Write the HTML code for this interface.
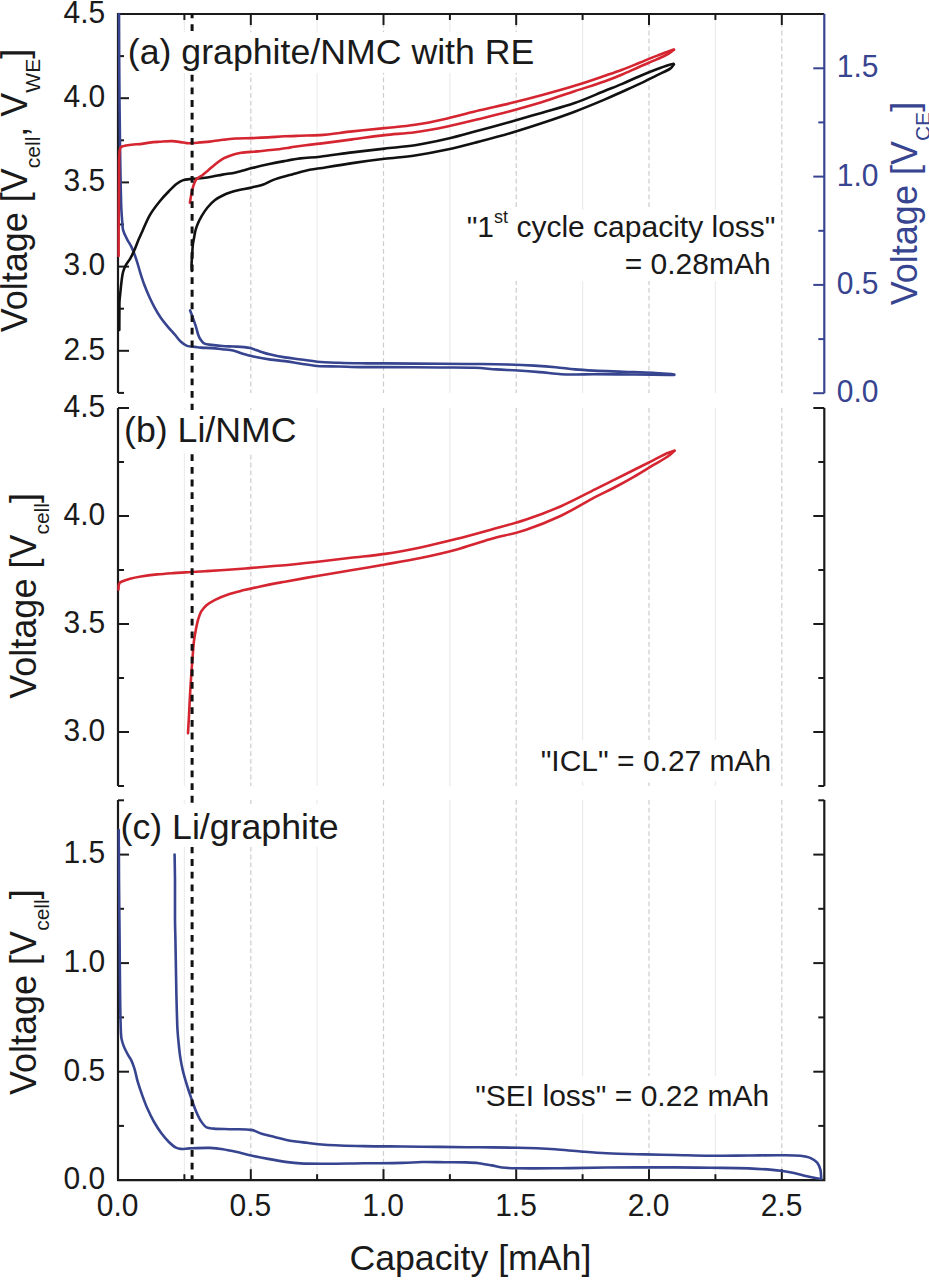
<!DOCTYPE html>
<html><head><meta charset="utf-8"><style>
html,body{margin:0;padding:0;background:#fff;}
svg{display:block;}
text{font-family:"Liberation Sans",sans-serif;}
</style></head><body>
<svg width="929" height="1280" viewBox="0 0 929 1280" fill="#1a1a1a" font-family="'Liberation Sans', sans-serif">
<rect width="929" height="1280" fill="#fff"/>
<line x1="184.4" y1="15.0" x2="184.4" y2="393.0" stroke="#ececec" stroke-width="1.2"/>
<line x1="250.8" y1="15.0" x2="250.8" y2="393.0" stroke="#cccccc" stroke-width="1.2" stroke-dasharray="4.8 3"/>
<line x1="317.1" y1="15.0" x2="317.1" y2="393.0" stroke="#ececec" stroke-width="1.2"/>
<line x1="383.5" y1="15.0" x2="383.5" y2="393.0" stroke="#cccccc" stroke-width="1.2" stroke-dasharray="4.8 3"/>
<line x1="449.9" y1="15.0" x2="449.9" y2="393.0" stroke="#ececec" stroke-width="1.2"/>
<line x1="516.2" y1="15.0" x2="516.2" y2="393.0" stroke="#cccccc" stroke-width="1.2" stroke-dasharray="4.8 3"/>
<line x1="582.6" y1="15.0" x2="582.6" y2="393.0" stroke="#ececec" stroke-width="1.2"/>
<line x1="649.0" y1="15.0" x2="649.0" y2="393.0" stroke="#cccccc" stroke-width="1.2" stroke-dasharray="4.8 3"/>
<line x1="715.4" y1="15.0" x2="715.4" y2="393.0" stroke="#ececec" stroke-width="1.2"/>
<line x1="781.8" y1="15.0" x2="781.8" y2="393.0" stroke="#cccccc" stroke-width="1.2" stroke-dasharray="4.8 3"/>
<line x1="184.4" y1="408.0" x2="184.4" y2="786.0" stroke="#ececec" stroke-width="1.2"/>
<line x1="250.8" y1="408.0" x2="250.8" y2="786.0" stroke="#cccccc" stroke-width="1.2" stroke-dasharray="4.8 3"/>
<line x1="317.1" y1="408.0" x2="317.1" y2="786.0" stroke="#ececec" stroke-width="1.2"/>
<line x1="383.5" y1="408.0" x2="383.5" y2="786.0" stroke="#cccccc" stroke-width="1.2" stroke-dasharray="4.8 3"/>
<line x1="449.9" y1="408.0" x2="449.9" y2="786.0" stroke="#ececec" stroke-width="1.2"/>
<line x1="516.2" y1="408.0" x2="516.2" y2="786.0" stroke="#cccccc" stroke-width="1.2" stroke-dasharray="4.8 3"/>
<line x1="582.6" y1="408.0" x2="582.6" y2="786.0" stroke="#ececec" stroke-width="1.2"/>
<line x1="649.0" y1="408.0" x2="649.0" y2="786.0" stroke="#cccccc" stroke-width="1.2" stroke-dasharray="4.8 3"/>
<line x1="715.4" y1="408.0" x2="715.4" y2="786.0" stroke="#ececec" stroke-width="1.2"/>
<line x1="781.8" y1="408.0" x2="781.8" y2="786.0" stroke="#cccccc" stroke-width="1.2" stroke-dasharray="4.8 3"/>
<line x1="184.4" y1="800.0" x2="184.4" y2="1179.2" stroke="#ececec" stroke-width="1.2"/>
<line x1="250.8" y1="800.0" x2="250.8" y2="1179.2" stroke="#cccccc" stroke-width="1.2" stroke-dasharray="4.8 3"/>
<line x1="317.1" y1="800.0" x2="317.1" y2="1179.2" stroke="#ececec" stroke-width="1.2"/>
<line x1="383.5" y1="800.0" x2="383.5" y2="1179.2" stroke="#cccccc" stroke-width="1.2" stroke-dasharray="4.8 3"/>
<line x1="449.9" y1="800.0" x2="449.9" y2="1179.2" stroke="#ececec" stroke-width="1.2"/>
<line x1="516.2" y1="800.0" x2="516.2" y2="1179.2" stroke="#cccccc" stroke-width="1.2" stroke-dasharray="4.8 3"/>
<line x1="582.6" y1="800.0" x2="582.6" y2="1179.2" stroke="#ececec" stroke-width="1.2"/>
<line x1="649.0" y1="800.0" x2="649.0" y2="1179.2" stroke="#cccccc" stroke-width="1.2" stroke-dasharray="4.8 3"/>
<line x1="715.4" y1="800.0" x2="715.4" y2="1179.2" stroke="#ececec" stroke-width="1.2"/>
<line x1="781.8" y1="800.0" x2="781.8" y2="1179.2" stroke="#cccccc" stroke-width="1.2" stroke-dasharray="4.8 3"/>
<path d="M118.0,393.0 L118.0,14.0 L824.3,14.0" fill="none" stroke="#1a1a1a" stroke-width="2.2"/>
<line x1="824.3" y1="14.0" x2="824.3" y2="393.2" stroke="#37448f" stroke-width="2.2"/>
<line x1="118.0" y1="98.2" x2="129.0" y2="98.2" stroke="#1a1a1a" stroke-width="2"/>
<line x1="118.0" y1="182.4" x2="129.0" y2="182.4" stroke="#1a1a1a" stroke-width="2"/>
<line x1="118.0" y1="266.6" x2="129.0" y2="266.6" stroke="#1a1a1a" stroke-width="2"/>
<line x1="118.0" y1="350.8" x2="129.0" y2="350.8" stroke="#1a1a1a" stroke-width="2"/>
<line x1="118.0" y1="56.1" x2="124.0" y2="56.1" stroke="#1a1a1a" stroke-width="2"/>
<line x1="118.0" y1="140.3" x2="124.0" y2="140.3" stroke="#1a1a1a" stroke-width="2"/>
<line x1="118.0" y1="224.5" x2="124.0" y2="224.5" stroke="#1a1a1a" stroke-width="2"/>
<line x1="118.0" y1="308.7" x2="124.0" y2="308.7" stroke="#1a1a1a" stroke-width="2"/>
<line x1="118.0" y1="392.9" x2="124.0" y2="392.9" stroke="#1a1a1a" stroke-width="2"/>
<line x1="824.3" y1="393.2" x2="813.3" y2="393.2" stroke="#37448f" stroke-width="2"/>
<line x1="824.3" y1="284.9" x2="813.3" y2="284.9" stroke="#37448f" stroke-width="2"/>
<line x1="824.3" y1="176.6" x2="813.3" y2="176.6" stroke="#37448f" stroke-width="2"/>
<line x1="824.3" y1="68.3" x2="813.3" y2="68.3" stroke="#37448f" stroke-width="2"/>
<line x1="824.3" y1="339.1" x2="818.3" y2="339.1" stroke="#37448f" stroke-width="2"/>
<line x1="824.3" y1="230.8" x2="818.3" y2="230.8" stroke="#37448f" stroke-width="2"/>
<line x1="824.3" y1="122.4" x2="818.3" y2="122.4" stroke="#37448f" stroke-width="2"/>
<line x1="184.4" y1="14.0" x2="184.4" y2="20.0" stroke="#1a1a1a" stroke-width="2"/>
<line x1="250.8" y1="14.0" x2="250.8" y2="25.0" stroke="#1a1a1a" stroke-width="2"/>
<line x1="317.1" y1="14.0" x2="317.1" y2="20.0" stroke="#1a1a1a" stroke-width="2"/>
<line x1="383.5" y1="14.0" x2="383.5" y2="25.0" stroke="#1a1a1a" stroke-width="2"/>
<line x1="449.9" y1="14.0" x2="449.9" y2="20.0" stroke="#1a1a1a" stroke-width="2"/>
<line x1="516.2" y1="14.0" x2="516.2" y2="25.0" stroke="#1a1a1a" stroke-width="2"/>
<line x1="582.6" y1="14.0" x2="582.6" y2="20.0" stroke="#1a1a1a" stroke-width="2"/>
<line x1="649.0" y1="14.0" x2="649.0" y2="25.0" stroke="#1a1a1a" stroke-width="2"/>
<line x1="715.4" y1="14.0" x2="715.4" y2="20.0" stroke="#1a1a1a" stroke-width="2"/>
<line x1="781.8" y1="14.0" x2="781.8" y2="25.0" stroke="#1a1a1a" stroke-width="2"/>
<line x1="118.0" y1="408.0" x2="118.0" y2="786.0" stroke="#1a1a1a" stroke-width="2.2"/>
<line x1="824.3" y1="408.0" x2="824.3" y2="786.0" stroke="#1a1a1a" stroke-width="2.2"/>
<line x1="118.0" y1="408.0" x2="129.0" y2="408.0" stroke="#1a1a1a" stroke-width="2"/>
<line x1="118.0" y1="516.0" x2="129.0" y2="516.0" stroke="#1a1a1a" stroke-width="2"/>
<line x1="118.0" y1="624.0" x2="129.0" y2="624.0" stroke="#1a1a1a" stroke-width="2"/>
<line x1="118.0" y1="732.0" x2="129.0" y2="732.0" stroke="#1a1a1a" stroke-width="2"/>
<line x1="118.0" y1="462.0" x2="124.0" y2="462.0" stroke="#1a1a1a" stroke-width="2"/>
<line x1="118.0" y1="570.0" x2="124.0" y2="570.0" stroke="#1a1a1a" stroke-width="2"/>
<line x1="118.0" y1="678.0" x2="124.0" y2="678.0" stroke="#1a1a1a" stroke-width="2"/>
<line x1="118.0" y1="786.0" x2="124.0" y2="786.0" stroke="#1a1a1a" stroke-width="2"/>
<line x1="824.3" y1="408.0" x2="813.3" y2="408.0" stroke="#1a1a1a" stroke-width="2"/>
<line x1="824.3" y1="516.0" x2="813.3" y2="516.0" stroke="#1a1a1a" stroke-width="2"/>
<line x1="824.3" y1="624.0" x2="813.3" y2="624.0" stroke="#1a1a1a" stroke-width="2"/>
<line x1="824.3" y1="732.0" x2="813.3" y2="732.0" stroke="#1a1a1a" stroke-width="2"/>
<line x1="824.3" y1="462.0" x2="818.3" y2="462.0" stroke="#1a1a1a" stroke-width="2"/>
<line x1="824.3" y1="570.0" x2="818.3" y2="570.0" stroke="#1a1a1a" stroke-width="2"/>
<line x1="824.3" y1="678.0" x2="818.3" y2="678.0" stroke="#1a1a1a" stroke-width="2"/>
<line x1="824.3" y1="786.0" x2="818.3" y2="786.0" stroke="#1a1a1a" stroke-width="2"/>
<path d="M118.0,800.0 L118.0,1180.2 L824.3,1180.2 L824.3,800.0" fill="none" stroke="#1a1a1a" stroke-width="2.2"/>
<line x1="118.0" y1="1071.7" x2="129.0" y2="1071.7" stroke="#1a1a1a" stroke-width="2"/>
<line x1="118.0" y1="963.1" x2="129.0" y2="963.1" stroke="#1a1a1a" stroke-width="2"/>
<line x1="118.0" y1="854.6" x2="129.0" y2="854.6" stroke="#1a1a1a" stroke-width="2"/>
<line x1="118.0" y1="1125.9" x2="124.0" y2="1125.9" stroke="#1a1a1a" stroke-width="2"/>
<line x1="118.0" y1="1017.4" x2="124.0" y2="1017.4" stroke="#1a1a1a" stroke-width="2"/>
<line x1="118.0" y1="908.8" x2="124.0" y2="908.8" stroke="#1a1a1a" stroke-width="2"/>
<line x1="118.0" y1="800.3" x2="124.0" y2="800.3" stroke="#1a1a1a" stroke-width="2"/>
<line x1="824.3" y1="1071.7" x2="813.3" y2="1071.7" stroke="#1a1a1a" stroke-width="2"/>
<line x1="824.3" y1="963.1" x2="813.3" y2="963.1" stroke="#1a1a1a" stroke-width="2"/>
<line x1="824.3" y1="854.6" x2="813.3" y2="854.6" stroke="#1a1a1a" stroke-width="2"/>
<line x1="824.3" y1="1125.9" x2="818.3" y2="1125.9" stroke="#1a1a1a" stroke-width="2"/>
<line x1="824.3" y1="1017.4" x2="818.3" y2="1017.4" stroke="#1a1a1a" stroke-width="2"/>
<line x1="824.3" y1="908.8" x2="818.3" y2="908.8" stroke="#1a1a1a" stroke-width="2"/>
<line x1="824.3" y1="800.3" x2="818.3" y2="800.3" stroke="#1a1a1a" stroke-width="2"/>
<line x1="184.4" y1="1180.2" x2="184.4" y2="1174.2" stroke="#1a1a1a" stroke-width="2"/>
<line x1="250.8" y1="1180.2" x2="250.8" y2="1169.2" stroke="#1a1a1a" stroke-width="2"/>
<line x1="317.1" y1="1180.2" x2="317.1" y2="1174.2" stroke="#1a1a1a" stroke-width="2"/>
<line x1="383.5" y1="1180.2" x2="383.5" y2="1169.2" stroke="#1a1a1a" stroke-width="2"/>
<line x1="449.9" y1="1180.2" x2="449.9" y2="1174.2" stroke="#1a1a1a" stroke-width="2"/>
<line x1="516.2" y1="1180.2" x2="516.2" y2="1169.2" stroke="#1a1a1a" stroke-width="2"/>
<line x1="582.6" y1="1180.2" x2="582.6" y2="1174.2" stroke="#1a1a1a" stroke-width="2"/>
<line x1="649.0" y1="1180.2" x2="649.0" y2="1169.2" stroke="#1a1a1a" stroke-width="2"/>
<line x1="715.4" y1="1180.2" x2="715.4" y2="1174.2" stroke="#1a1a1a" stroke-width="2"/>
<line x1="781.8" y1="1180.2" x2="781.8" y2="1169.2" stroke="#1a1a1a" stroke-width="2"/>
<path d="M119.00,14.00 C119.07,29.33 119.10,44.35 119.20,60.00 C119.30,76.32 119.44,94.06 119.60,110.00 C119.75,124.61 119.89,138.35 120.10,152.00 C120.30,164.98 120.54,179.35 120.80,190.00 C120.99,197.73 121.12,204.48 121.40,210.00 C121.60,213.91 121.82,216.65 122.10,220.00 C122.38,223.39 122.25,226.96 123.10,230.20 C123.93,233.39 125.68,236.49 127.10,239.30 C128.39,241.85 130.00,244.00 131.20,246.40 C132.36,248.73 133.24,250.97 134.20,253.50 C135.28,256.33 136.31,259.47 137.30,262.60 C138.34,265.89 139.18,269.26 140.30,272.80 C141.53,276.70 142.88,280.96 144.40,285.00 C145.94,289.09 147.75,293.35 149.50,297.20 C151.12,300.75 152.68,303.96 154.50,307.30 C156.37,310.73 158.38,314.26 160.60,317.50 C162.79,320.69 165.28,323.69 167.70,326.60 C170.05,329.42 172.62,332.08 174.90,334.70 C177.01,337.13 178.75,339.87 180.90,341.80 C182.81,343.51 184.70,345.04 187.00,345.90 C189.44,346.81 192.73,346.59 195.20,346.90 C197.24,347.15 198.63,347.41 200.80,347.60 C203.79,347.86 207.93,347.83 211.50,348.10 C215.10,348.37 218.70,348.80 222.30,349.20 C225.90,349.60 229.55,349.70 233.10,350.50 C236.72,351.32 240.20,353.05 243.80,354.10 C247.37,355.15 250.62,355.96 254.60,356.80 C259.42,357.82 265.48,358.87 270.70,359.60 C275.60,360.28 280.10,360.43 285.00,361.10 C290.22,361.81 295.72,362.98 301.10,363.80 C306.49,364.62 311.50,365.54 317.30,366.00 C323.95,366.53 331.63,366.32 338.80,366.50 C345.97,366.68 352.88,367.00 360.30,367.10 C368.25,367.21 375.14,367.06 385.00,367.10 C399.71,367.15 423.73,367.37 440.00,367.50 C452.98,367.60 464.75,367.38 475.00,367.80 C483.04,368.13 489.32,368.95 496.50,369.40 C503.69,369.85 510.91,370.05 518.10,370.50 C525.28,370.95 532.44,371.48 539.60,372.10 C546.77,372.72 554.71,373.82 561.10,374.20 C566.23,374.51 570.02,374.47 575.00,374.50 C580.77,374.53 587.10,374.32 593.70,374.30 C601.13,374.28 608.70,374.36 617.40,374.40 C628.04,374.45 642.57,374.47 652.90,374.60 C660.90,374.70 667.10,374.87 674.20,375.00" fill="none" stroke="#37448f" stroke-width="2.6" stroke-linejoin="round" stroke-linecap="round"/>
<path d="M190.10,310.40 C191.10,313.10 192.11,315.71 193.10,318.50 C194.14,321.44 195.31,324.74 196.20,327.60 C196.98,330.10 197.44,332.65 198.20,334.70 C198.81,336.34 199.30,337.63 200.20,339.00 C201.19,340.51 202.32,342.32 204.00,343.30 C205.94,344.44 208.76,344.47 211.50,344.90 C214.76,345.41 218.70,345.73 222.30,346.00 C225.90,346.27 229.51,346.32 233.10,346.50 C236.68,346.68 240.68,346.77 243.80,347.10 C246.24,347.36 247.94,347.52 250.30,348.10 C253.24,348.82 256.68,350.34 260.00,351.40 C263.47,352.51 266.85,353.65 270.70,354.60 C275.10,355.69 280.08,356.60 285.00,357.40 C290.19,358.25 295.73,358.78 301.10,359.50 C306.49,360.22 311.51,361.16 317.30,361.70 C323.95,362.32 331.63,362.53 338.80,362.80 C345.96,363.07 352.88,363.20 360.30,363.30 C368.25,363.41 375.14,363.34 385.00,363.40 C399.71,363.48 423.73,363.69 440.00,363.80 C452.98,363.88 463.57,363.88 475.00,364.00 C485.98,364.12 497.03,364.21 507.30,364.50 C516.68,364.76 525.74,365.11 534.20,365.60 C541.77,366.04 548.73,366.54 555.70,367.20 C562.31,367.82 568.61,368.83 575.00,369.40 C581.28,369.96 586.75,370.25 593.70,370.60 C602.44,371.04 613.43,371.33 623.30,371.70 C633.17,372.07 643.85,372.27 652.90,372.80 C660.59,373.25 667.10,373.93 674.20,374.50" fill="none" stroke="#37448f" stroke-width="2.6" stroke-linejoin="round" stroke-linecap="round"/>
<path d="M119.30,330.00 C119.33,323.33 119.36,315.32 119.40,310.00 C119.43,306.47 119.33,304.23 119.50,301.20 C119.68,297.95 120.15,294.47 120.50,291.10 C120.85,287.71 121.15,284.20 121.60,280.90 C122.03,277.77 122.29,274.60 123.10,271.80 C123.84,269.24 124.90,266.92 126.10,264.70 C127.27,262.53 128.91,260.82 130.20,258.60 C131.63,256.13 132.91,253.38 134.20,250.50 C135.62,247.32 136.90,243.59 138.30,240.30 C139.64,237.17 140.83,234.65 142.40,231.20 C144.48,226.63 146.82,220.27 149.70,215.30 C152.51,210.45 156.04,205.87 159.40,201.70 C162.52,197.82 165.99,194.16 169.10,191.00 C171.76,188.30 174.31,185.65 176.80,183.80 C178.79,182.32 180.33,181.21 182.60,180.40 C185.34,179.42 188.98,179.30 192.30,178.90 C195.77,178.49 199.53,178.41 203.00,178.00 C206.32,177.60 209.47,177.07 212.70,176.50 C215.94,175.93 218.90,175.23 222.40,174.60 C226.50,173.86 231.15,173.40 235.80,172.40 C240.95,171.29 246.51,169.45 251.90,168.10 C257.28,166.75 262.70,165.47 268.10,164.30 C273.47,163.14 278.82,162.08 284.20,161.10 C289.58,160.12 294.73,159.12 300.40,158.40 C306.61,157.61 312.67,157.51 320.00,156.70 C329.44,155.66 341.53,153.75 352.30,152.40 C363.06,151.05 373.99,149.80 384.60,148.60 C394.88,147.44 404.75,146.88 415.00,145.30 C425.64,143.66 436.57,141.31 447.30,138.80 C458.11,136.28 469.00,133.06 479.60,130.20 C489.89,127.43 499.72,124.77 510.00,121.90 C520.61,118.94 531.54,115.83 542.30,112.70 C553.08,109.56 564.08,106.78 574.60,103.10 C584.98,99.47 596.30,94.31 605.00,90.80 C611.54,88.16 616.48,86.32 622.20,83.90 C627.98,81.45 633.72,78.65 639.50,76.20 C645.22,73.78 651.55,71.24 656.70,69.30 C660.84,67.74 664.89,66.27 668.00,65.30 C670.15,64.63 671.67,64.30 673.50,63.80" fill="none" stroke="#111111" stroke-width="2.6" stroke-linejoin="round" stroke-linecap="round"/>
<path d="M191.90,271.00 C191.80,268.58 191.57,266.32 191.60,263.75 C191.63,260.83 192.00,257.52 192.20,254.40 C192.40,251.27 192.45,247.95 192.80,245.00 C193.11,242.35 193.63,240.00 194.10,237.50 C194.57,235.00 194.92,232.42 195.60,230.00 C196.26,227.63 197.10,225.42 198.10,223.10 C199.17,220.62 200.41,218.10 201.90,215.60 C203.51,212.90 205.37,210.06 207.50,207.50 C209.71,204.85 212.25,202.10 215.00,200.00 C217.68,197.95 221.04,196.31 223.75,195.00 C225.97,193.93 227.94,193.23 230.00,192.50 C231.96,191.81 233.36,191.33 235.80,190.70 C239.81,189.67 247.08,188.50 251.90,187.40 C255.87,186.50 259.16,185.93 262.70,184.70 C266.33,183.44 269.41,181.38 273.40,179.90 C278.19,178.13 284.20,176.64 289.60,175.10 C294.97,173.57 300.46,171.85 305.70,170.70 C310.58,169.63 314.27,169.24 320.00,168.30 C328.60,166.89 341.52,164.68 352.30,163.10 C363.06,161.52 373.99,160.08 384.60,158.80 C394.88,157.56 404.74,156.99 415.00,155.50 C425.63,153.95 436.57,151.92 447.30,149.60 C458.10,147.26 469.01,144.27 479.60,141.50 C489.90,138.80 499.74,136.22 510.00,133.20 C520.63,130.07 531.56,126.57 542.30,123.00 C553.09,119.41 564.04,115.68 574.60,111.70 C584.93,107.80 596.33,103.09 605.00,99.40 C611.57,96.60 616.46,94.28 622.20,91.70 C627.96,89.11 633.77,86.62 639.50,83.90 C645.27,81.16 651.28,78.01 656.70,75.30 C661.55,72.87 667.57,70.67 670.50,68.40 C672.19,67.09 672.77,65.80 673.90,64.50" fill="none" stroke="#111111" stroke-width="2.6" stroke-linejoin="round" stroke-linecap="round"/>
<path d="M118.60,256.00 C118.63,244.00 118.64,232.32 118.70,220.00 C118.77,207.02 118.89,191.77 119.00,180.00 C119.09,170.69 118.86,160.76 119.30,155.00 C119.54,151.94 119.54,149.41 120.30,148.00 C120.73,147.20 121.25,146.89 122.00,146.50 C123.01,145.97 124.45,145.80 126.00,145.50 C128.10,145.10 131.09,144.73 133.50,144.50 C135.74,144.28 137.62,144.36 140.00,144.10 C142.92,143.79 146.46,142.98 149.70,142.60 C152.93,142.22 155.95,142.04 159.40,141.80 C163.32,141.53 168.19,140.99 172.00,141.10 C175.17,141.19 178.10,141.73 180.70,142.10 C182.83,142.41 184.56,142.93 186.50,143.10 C188.43,143.26 190.23,143.19 192.30,143.10 C194.71,142.99 197.36,142.64 200.10,142.40 C203.16,142.14 206.57,141.97 209.80,141.60 C213.04,141.23 216.72,140.55 219.50,140.20 C221.59,139.94 222.86,139.83 225.00,139.60 C228.00,139.28 231.84,138.75 235.80,138.50 C240.63,138.19 246.53,138.28 251.90,138.10 C257.29,137.92 262.71,137.70 268.10,137.40 C273.48,137.10 278.82,136.58 284.20,136.30 C289.59,136.02 294.74,135.89 300.40,135.70 C306.62,135.49 312.67,135.63 320.00,135.10 C329.44,134.42 341.53,132.57 352.30,131.40 C363.06,130.23 374.00,129.22 384.60,128.10 C394.89,127.02 404.75,126.37 415.00,124.80 C425.64,123.17 436.56,120.81 447.30,118.40 C458.10,115.98 468.98,112.85 479.60,110.30 C489.87,107.83 499.73,105.80 510.00,103.30 C520.62,100.71 531.55,97.91 542.30,95.00 C553.09,92.08 564.03,89.06 574.60,85.80 C584.92,82.62 596.31,78.66 605.00,75.70 C611.55,73.47 616.48,71.84 622.20,69.70 C627.98,67.54 633.74,65.10 639.50,62.80 C645.24,60.50 650.95,58.12 656.70,55.90 C662.42,53.69 668.17,51.63 673.90,49.50" fill="none" stroke="#d42530" stroke-width="2.6" stroke-linejoin="round" stroke-linecap="round"/>
<path d="M189.90,202.70 C190.40,199.80 190.82,196.81 191.40,194.00 C191.96,191.32 192.48,188.68 193.30,186.20 C194.09,183.82 194.72,181.20 196.20,179.40 C197.64,177.65 200.10,176.92 202.00,175.50 C203.97,174.03 205.74,172.45 207.80,170.70 C210.22,168.64 213.04,165.91 215.60,163.90 C217.90,162.10 220.64,160.16 222.40,159.10 C223.44,158.48 223.86,158.29 225.00,157.80 C227.02,156.92 230.81,155.45 233.60,154.60 C236.16,153.82 238.10,153.29 241.10,152.80 C245.45,152.09 251.91,151.90 257.30,151.40 C262.68,150.90 268.03,150.43 273.40,149.80 C278.80,149.17 284.21,148.37 289.60,147.60 C294.98,146.83 300.49,145.88 305.70,145.20 C310.60,144.56 314.28,144.29 320.00,143.60 C328.61,142.56 341.53,140.82 352.30,139.40 C363.07,137.98 373.99,136.31 384.60,135.10 C394.88,133.93 404.74,133.61 415.00,132.20 C425.63,130.74 436.56,128.61 447.30,126.40 C458.09,124.18 469.01,121.47 479.60,118.90 C489.90,116.40 499.73,113.96 510.00,111.20 C520.62,108.34 531.57,105.32 542.30,102.00 C553.10,98.66 563.99,94.70 574.60,91.20 C584.88,87.81 596.34,84.42 605.00,81.30 C611.59,78.93 616.49,76.92 622.20,74.50 C627.99,72.05 633.73,69.23 639.50,66.70 C645.23,64.19 651.72,61.64 656.70,59.40 C660.59,57.65 663.97,56.24 667.00,54.50 C669.59,53.01 671.60,51.37 673.90,49.80" fill="none" stroke="#d42530" stroke-width="2.6" stroke-linejoin="round" stroke-linecap="round"/>
<path d="M118.50,589.50 C118.60,588.00 118.47,586.25 118.80,585.00 C119.06,584.02 119.38,583.13 120.00,582.50 C120.64,581.85 121.49,581.66 122.60,581.20 C124.43,580.44 127.35,579.44 130.10,578.70 C133.35,577.83 136.92,577.16 140.90,576.50 C145.74,575.69 151.70,574.97 157.10,574.40 C162.47,573.84 168.25,573.45 173.20,573.10 C177.44,572.80 181.65,572.60 185.00,572.40 C187.49,572.25 188.89,572.16 191.50,572.00 C195.47,571.76 201.05,571.44 206.50,571.10 C213.05,570.69 220.91,570.20 228.10,569.70 C235.28,569.20 242.44,568.68 249.60,568.10 C256.77,567.52 264.71,566.71 271.10,566.20 C276.23,565.79 279.47,565.69 285.00,565.20 C293.20,564.48 304.95,563.18 315.50,562.00 C326.89,560.73 339.29,559.16 351.00,557.80 C362.45,556.47 373.57,555.60 385.00,553.90 C396.73,552.15 408.70,549.86 420.50,547.40 C432.36,544.93 444.32,542.04 456.00,539.10 C467.48,536.21 478.55,533.08 490.00,529.90 C501.72,526.65 513.75,523.71 525.50,519.80 C537.42,515.83 549.41,511.27 561.00,506.20 C572.58,501.14 585.25,494.25 595.00,489.40 C602.37,485.74 607.93,482.93 614.40,479.70 C620.87,476.47 627.34,473.24 633.80,470.00 C640.24,466.77 647.19,463.27 653.10,460.30 C658.11,457.78 663.03,455.01 667.00,453.30 C669.84,452.08 672.00,451.50 674.50,450.60" fill="none" stroke="#d42530" stroke-width="2.6" stroke-linejoin="round" stroke-linecap="round"/>
<path d="M188.00,733.10 C188.30,727.93 188.58,723.43 188.90,717.60 C189.31,710.07 189.70,700.32 190.20,691.70 C190.70,683.09 191.34,673.71 191.90,665.90 C192.37,659.39 192.87,652.78 193.30,648.00 C193.58,644.80 193.72,642.81 194.10,640.00 C194.53,636.85 195.16,633.30 195.80,630.00 C196.43,626.73 196.99,623.40 197.90,620.30 C198.77,617.31 199.62,614.26 201.10,611.70 C202.52,609.25 204.31,607.12 206.50,605.20 C208.90,603.10 211.86,601.48 215.10,599.80 C218.92,597.83 223.48,595.97 228.10,594.40 C233.13,592.69 238.82,591.44 244.20,590.10 C249.56,588.77 254.92,587.57 260.30,586.40 C265.68,585.23 271.96,583.94 276.50,583.10 C279.78,582.50 281.29,582.34 285.00,581.70 C292.03,580.49 304.94,578.03 315.50,576.20 C326.88,574.23 339.30,572.27 351.00,570.30 C362.46,568.37 373.55,566.52 385.00,564.50 C396.71,562.43 408.70,560.46 420.50,558.00 C432.36,555.53 444.35,552.84 456.00,549.70 C467.51,546.60 478.51,542.58 490.00,539.30 C501.67,535.97 513.78,533.78 525.50,529.90 C537.46,525.94 549.45,521.13 561.00,515.70 C572.62,510.24 585.21,502.31 595.00,497.20 C602.33,493.37 607.97,490.88 614.40,487.50 C620.90,484.08 627.38,480.50 633.80,476.80 C640.28,473.07 647.11,468.78 653.10,465.20 C658.30,462.09 663.84,459.24 667.70,456.50 C670.49,454.52 672.23,452.70 674.50,450.80" fill="none" stroke="#d42530" stroke-width="2.6" stroke-linejoin="round" stroke-linecap="round"/>
<path d="M118.80,830.00 C118.87,846.67 118.89,864.26 119.00,880.00 C119.10,894.08 119.29,909.15 119.40,920.00 C119.48,927.44 119.52,930.86 119.60,938.80 C119.73,952.53 119.89,979.50 120.10,995.00 C120.25,1005.94 120.30,1015.02 120.60,1023.00 C120.82,1028.96 120.77,1034.38 121.50,1038.60 C122.02,1041.59 122.71,1043.55 123.70,1046.10 C124.81,1048.94 126.62,1052.28 128.00,1054.80 C129.10,1056.81 130.21,1058.06 131.20,1060.10 C132.41,1062.60 133.49,1065.58 134.50,1068.80 C135.70,1072.65 136.46,1077.42 137.70,1081.70 C138.96,1086.02 140.43,1090.23 142.00,1094.60 C143.65,1099.19 145.41,1104.07 147.40,1108.60 C149.35,1113.03 151.45,1117.36 153.80,1121.50 C156.12,1125.59 158.75,1129.75 161.40,1133.30 C163.80,1136.51 166.38,1139.55 168.90,1142.00 C171.05,1144.09 173.23,1146.15 175.40,1147.30 C177.16,1148.24 178.69,1148.66 180.70,1148.90 C183.22,1149.20 185.88,1148.54 189.40,1148.40 C194.81,1148.18 203.94,1147.67 210.00,1147.90 C214.81,1148.08 218.62,1148.55 222.90,1149.20 C227.22,1149.85 231.51,1150.84 235.80,1151.80 C240.11,1152.77 243.95,1153.93 248.70,1155.00 C254.50,1156.30 261.62,1157.72 268.10,1158.90 C274.56,1160.08 281.68,1161.33 287.50,1162.10 C292.23,1162.73 295.40,1163.11 300.40,1163.40 C307.28,1163.80 315.87,1163.78 325.00,1163.80 C336.44,1163.82 350.79,1163.45 363.70,1163.30 C376.62,1163.15 391.79,1163.20 402.50,1162.90 C410.08,1162.69 415.15,1162.13 421.90,1162.00 C429.26,1161.86 437.50,1162.13 445.00,1162.20 C452.12,1162.27 459.69,1162.18 465.80,1162.40 C470.61,1162.57 474.40,1162.70 478.70,1163.20 C483.04,1163.70 487.62,1164.64 491.70,1165.40 C495.34,1166.08 498.20,1167.02 502.00,1167.50 C506.62,1168.09 511.05,1168.14 517.50,1168.30 C528.17,1168.56 545.50,1168.33 560.00,1168.20 C575.20,1168.07 589.66,1167.64 606.70,1167.50 C627.31,1167.33 656.00,1167.31 675.00,1167.40 C688.60,1167.47 698.04,1167.64 710.00,1167.80 C722.58,1167.97 736.39,1167.87 748.70,1168.40 C759.96,1168.89 772.66,1169.70 781.00,1170.70 C786.32,1171.34 789.69,1171.99 794.00,1172.90 C798.33,1173.82 802.59,1175.21 806.90,1176.20 C811.19,1177.18 815.50,1177.93 819.80,1178.80" fill="none" stroke="#37448f" stroke-width="2.6" stroke-linejoin="round" stroke-linecap="round"/>
<path d="M174.60,854.50 C174.73,863.00 174.93,870.55 175.00,880.00 C175.09,891.84 174.88,909.15 175.00,920.00 C175.08,927.44 175.27,931.91 175.40,938.80 C175.56,947.23 175.73,957.53 175.90,966.90 C176.07,976.27 176.21,986.57 176.40,995.00 C176.55,1001.89 176.71,1007.77 176.90,1013.80 C177.08,1019.40 177.19,1024.91 177.50,1030.00 C177.78,1034.55 178.16,1038.52 178.60,1042.90 C179.06,1047.47 179.49,1052.25 180.20,1056.90 C180.92,1061.58 181.77,1066.17 182.90,1070.90 C184.08,1075.86 185.71,1081.18 187.20,1086.00 C188.59,1090.49 190.04,1094.71 191.50,1098.90 C192.91,1102.93 194.16,1106.90 195.80,1110.70 C197.40,1114.43 199.17,1118.55 201.20,1121.50 C202.85,1123.90 204.42,1126.22 206.60,1127.40 C208.71,1128.54 211.08,1128.31 214.00,1128.60 C218.19,1129.02 223.82,1129.00 229.40,1129.20 C236.06,1129.44 245.42,1128.76 251.30,1129.90 C255.48,1130.71 258.02,1132.56 261.70,1133.70 C265.74,1134.95 270.30,1135.92 274.60,1137.00 C278.90,1138.08 282.74,1139.29 287.50,1140.20 C293.28,1141.30 300.54,1142.04 306.90,1142.80 C313.03,1143.53 317.82,1144.19 325.00,1144.70 C335.47,1145.44 350.79,1145.80 363.70,1146.10 C376.62,1146.40 389.68,1146.37 402.50,1146.50 C415.11,1146.63 427.40,1146.77 440.00,1146.90 C452.80,1147.03 465.79,1147.17 478.70,1147.30 C491.62,1147.43 506.79,1147.48 517.50,1147.70 C525.08,1147.86 530.55,1148.03 536.90,1148.30 C543.04,1148.56 548.44,1148.84 555.00,1149.30 C562.84,1149.85 572.19,1150.83 580.80,1151.50 C589.42,1152.17 597.20,1152.83 606.70,1153.30 C618.30,1153.87 633.36,1154.11 645.40,1154.40 C655.93,1154.66 664.72,1154.78 675.00,1155.00 C686.18,1155.24 698.04,1155.71 710.00,1155.80 C722.58,1155.89 736.38,1155.60 748.70,1155.50 C759.95,1155.40 771.60,1155.10 781.00,1155.20 C788.29,1155.28 794.98,1155.12 800.40,1155.80 C804.40,1156.30 807.77,1156.82 810.70,1158.10 C813.24,1159.21 815.58,1160.66 817.20,1162.60 C818.81,1164.53 819.71,1167.11 820.40,1169.70 C821.15,1172.53 821.00,1175.90 821.30,1179.00" fill="none" stroke="#37448f" stroke-width="2.6" stroke-linejoin="round" stroke-linecap="round"/>
<line x1="192.1" y1="14" x2="192.1" y2="1179" stroke="#111" stroke-width="3" stroke-dasharray="6.8 5.85" stroke-dashoffset="2.45"/>
<rect x="125" y="32" width="413" height="41" fill="#fff"/>
<rect x="121" y="410" width="179" height="43" fill="#fff"/>
<rect x="120.5" y="804" width="221.5" height="43" fill="#fff"/>
<rect x="462" y="210" width="316" height="71" fill="#fff"/>
<rect x="535" y="740" width="243" height="41" fill="#fff"/>
<rect x="470" y="1076" width="305" height="38" fill="#fff"/>
<text transform="translate(105.3,22.8) scale(1,1.045)" text-anchor="end" font-size="30" fill="#1a1a1a">4.5</text>
<text transform="translate(105.3,107.0) scale(1,1.045)" text-anchor="end" font-size="30" fill="#1a1a1a">4.0</text>
<text transform="translate(105.3,191.2) scale(1,1.045)" text-anchor="end" font-size="30" fill="#1a1a1a">3.5</text>
<text transform="translate(105.3,275.4) scale(1,1.045)" text-anchor="end" font-size="30" fill="#1a1a1a">3.0</text>
<text transform="translate(105.3,359.6) scale(1,1.045)" text-anchor="end" font-size="30" fill="#1a1a1a">2.5</text>
<text transform="translate(105.3,416.8) scale(1,1.045)" text-anchor="end" font-size="30" fill="#1a1a1a">4.5</text>
<text transform="translate(105.3,524.8) scale(1,1.045)" text-anchor="end" font-size="30" fill="#1a1a1a">4.0</text>
<text transform="translate(105.3,632.8) scale(1,1.045)" text-anchor="end" font-size="30" fill="#1a1a1a">3.5</text>
<text transform="translate(105.3,740.8) scale(1,1.045)" text-anchor="end" font-size="30" fill="#1a1a1a">3.0</text>
<text transform="translate(105.3,863.4) scale(1,1.045)" text-anchor="end" font-size="30" fill="#1a1a1a">1.5</text>
<text transform="translate(105.3,971.9) scale(1,1.045)" text-anchor="end" font-size="30" fill="#1a1a1a">1.0</text>
<text transform="translate(105.3,1080.5) scale(1,1.045)" text-anchor="end" font-size="30" fill="#1a1a1a">0.5</text>
<text transform="translate(105.3,1189.0) scale(1,1.045)" text-anchor="end" font-size="30" fill="#1a1a1a">0.0</text>
<text transform="translate(836.8,77.3) scale(1,1.045)" font-size="30" fill="#37448f">1.5</text>
<text transform="translate(836.8,185.6) scale(1,1.045)" font-size="30" fill="#37448f">1.0</text>
<text transform="translate(836.8,293.9) scale(1,1.045)" font-size="30" fill="#37448f">0.5</text>
<text transform="translate(836.8,402.2) scale(1,1.045)" font-size="30" fill="#37448f">0.0</text>
<text transform="translate(117.7,1215.8) scale(1,1.045)" text-anchor="middle" font-size="30">0.0</text>
<text transform="translate(250.4,1215.8) scale(1,1.045)" text-anchor="middle" font-size="30">0.5</text>
<text transform="translate(383.2,1215.8) scale(1,1.045)" text-anchor="middle" font-size="30">1.0</text>
<text transform="translate(516.0,1215.8) scale(1,1.045)" text-anchor="middle" font-size="30">1.5</text>
<text transform="translate(648.7,1215.8) scale(1,1.045)" text-anchor="middle" font-size="30">2.0</text>
<text transform="translate(781.5,1215.8) scale(1,1.045)" text-anchor="middle" font-size="30">2.5</text>
<text x="127.8" y="64.2" font-size="35.7">(a) graphite/NMC with RE</text>
<text x="124" y="442.4" font-size="35.7">(b) Li/NMC</text>
<text x="120.5" y="839.4" font-size="35.7">(c) Li/graphite</text>
<text x="775.5" y="237.3" text-anchor="end" font-size="30">"1<tspan font-size="18" dy="-14.3">st</tspan><tspan dy="14.3"> cycle capacity loss"</tspan></text>
<text x="770.7" y="274.2" text-anchor="end" font-size="30">= 0.28mAh</text>
<text x="771.3" y="771.3" text-anchor="end" font-size="30">"ICL" = 0.27 mAh</text>
<text x="769.1" y="1106.3" text-anchor="end" font-size="30">"SEI loss" = 0.22 mAh</text>
<text x="349.4" y="1270.2" font-size="35.7">Capacity [mAh]</text>
<text transform="translate(27.2,332.3) rotate(-90)" font-size="36" fill="#1a1a1a"><tspan>Voltage [V</tspan><tspan font-size="21" dy="12.8">cell</tspan><tspan dy="-12.8">, V</tspan><tspan font-size="21" dy="12.8">WE</tspan><tspan dy="-12.8">]</tspan></text>
<text transform="translate(917,305.2) rotate(-90)" font-size="36" fill="#37448f"><tspan>Voltage [V</tspan><tspan font-size="21" dy="12.8">CE</tspan><tspan dy="-12.8">]</tspan></text>
<text transform="translate(36,698.7) rotate(-90)" font-size="36" fill="#1a1a1a"><tspan>Voltage [V</tspan><tspan font-size="21" dy="12.8">cell</tspan><tspan dy="-12.8">]</tspan></text>
<text transform="translate(36,1095) rotate(-90)" font-size="36" fill="#1a1a1a"><tspan>Voltage [V</tspan><tspan font-size="21" dy="12.8">cell</tspan><tspan dy="-12.8">]</tspan></text>
</svg>
</body></html>
